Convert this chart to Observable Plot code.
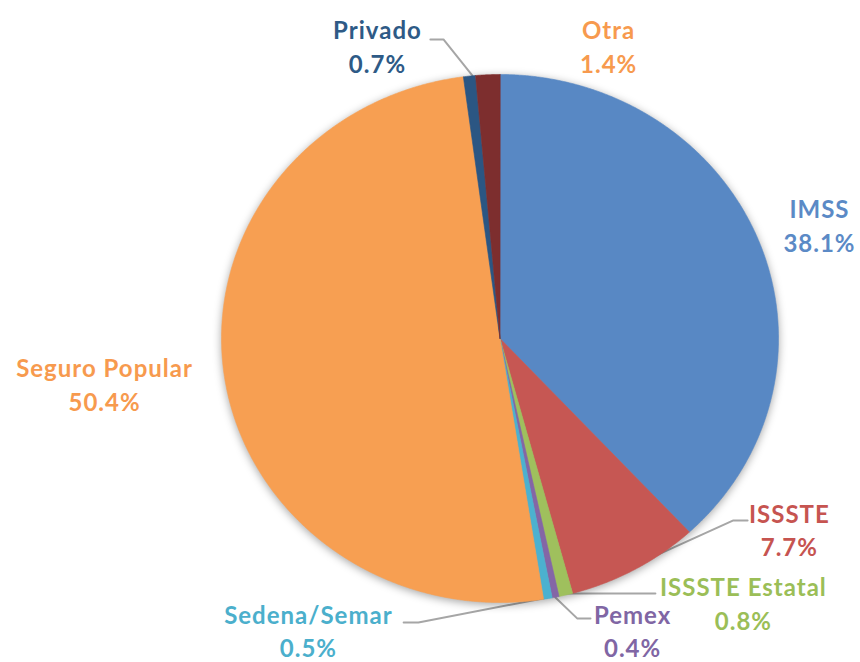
<!DOCTYPE html>
<html>
<head>
<meta charset="utf-8">
<script src="https://cdn.jsdelivr.net/npm/d3@7"></script>
<script src="https://cdn.jsdelivr.net/npm/@observablehq/plot@0.6"></script>
<style>
  html, body { margin: 0; padding: 0; background: #fff; }
  #chart { width: 860px; height: 662px; }
  #chart svg g[aria-label="text"] text { letter-spacing: 1px; }
</style>
</head>
<body>
<div id="chart"></div>
<script>
// ---- data (clockwise from 12 o'clock) ----
const categories = ["IMSS", "ISSSTE", "ISSSTE Estatal", "Pemex", "Sedena/Semar", "Seguro Popular", "Privado", "Otra"];
const shares = [38.1, 7.7, 0.8, 0.4, 0.5, 50.4, 0.7, 1.4];
const sliceColors = ["#5888C4", "#C65753", "#9FC05D", "#8466A6", "#4CB1CF", "#F79F52", "#2B5683", "#7D2E2E"];
const labelColors = ["#5B8AC6", "#C65450", "#9BBE57", "#8066A4", "#4BAFCC", "#F79A4E", "#2E5A86", "#F79A4E"];

// ---- annotation layout (in pie-radius units) ----
const labelAnchor = {
  "IMSS": [1.147, 0.432],
  "ISSSTE": [1.039, -0.720],
  "ISSSTE Estatal": [0.874, -0.998],
  "Pemex": [0.476, -1.103],
  "Sedena/Semar": [-0.688, -1.103],
  "Seguro Popular": [-1.420, -0.170],
  "Privado": [-0.440, 1.110],
  "Otra": [0.390, 1.110]
};
const leaders = {
  "ISSSTE": [[0.889, -0.689], [0.838, -0.689], [0.282, -0.955]],
  "ISSSTE Estatal": [[0.558, -0.966], [0.235, -0.966]],
  "Pemex": [[0.325, -1.061], [0.278, -1.061], [0.199, -0.981]],
  "Sedena/Semar": [[-0.346, -1.076], [-0.293, -1.076], [0.171, -0.981]],
  "Privado": [[-0.250, 1.133], [-0.203, 1.133], [-0.099, 0.996]]
};

// ---- build slice outlines from the shares ----
const total = d3.sum(shares);
const slicePts = [];
let acc = 0;
categories.forEach((name, i) => {
  const a0 = acc / total * 2 * Math.PI;
  acc += shares[i];
  const a1 = acc / total * 2 * Math.PI;
  const n = Math.max(2, Math.ceil((a1 - a0) / (Math.PI / 720)));
  slicePts.push({name, color: sliceColors[i], x: 0, y: 0});
  for (let k = 0; k <= n; k++) {
    const a = a0 + (a1 - a0) * k / n;
    slicePts.push({name, color: sliceColors[i], x: Math.sin(a), y: Math.cos(a)});
  }
});

const labels = categories.map((name, i) => ({
  name,
  text: `${name}\n${shares[i].toFixed(1)}%`,
  color: labelColors[i],
  x: labelAnchor[name][0],
  y: labelAnchor[name][1]
}));

const leaderPts = [];
Object.entries(leaders).forEach(([name, pts]) => pts.forEach(([x, y]) => leaderPts.push({name, x, y})));

const plot = Plot.plot({
  width: 860,
  height: 662,
  marginTop: 0, marginRight: 0, marginBottom: 0, marginLeft: 0,
  x: {domain: [-1, 1], range: [221, 778], axis: null},
  y: {domain: [-1, 1], range: [602, 74], axis: null},
  color: {type: "identity"},
  style: {fontFamily: "Lato, 'Open Sans', sans-serif", background: "#fff"},
  marks: [
    Plot.line(leaderPts, {x: "x", y: "y", z: "name", stroke: "#A6A6A6", strokeWidth: 2}),
    Plot.line(slicePts, {x: "x", y: "y", z: "name", fill: "color", stroke: "color", strokeWidth: 0.6, curve: "linear-closed"}),
    Plot.text(labels, {
      x: "x", y: "y", text: "text", fill: "color",
      fontSize: 24, fontWeight: "bold",
      textAnchor: "middle", lineAnchor: "middle", lineHeight: 1.4
    })
  ]
});

const lineGroups = plot.querySelectorAll('g[aria-label="line"]');
if (lineGroups[1]) lineGroups[1].style.filter = "drop-shadow(0px 2px 4px rgba(0,0,0,0.35))";

document.getElementById("chart").appendChild(plot);
</script>
</body>
</html>
